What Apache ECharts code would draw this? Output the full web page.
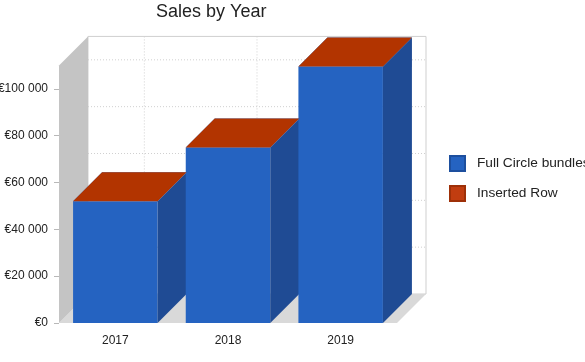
<!DOCTYPE html>
<html>
<head>
<meta charset="utf-8">
<script src="https://cdn.jsdelivr.net/npm/echarts@6/dist/echarts.min.js"></script>
<style>
  html, body { margin: 0; padding: 0; background: #fff; }
  #chart { width: 585px; height: 362px; }
</style>
</head>
<body>
<div id="chart"></div>
<script>
// data
const categories = ['2017', '2018', '2019']
const fullCircle = [52000, 75000, 109500]
const insertedRow = [0, 0, 0]
const yTicks = [0, 20000, 40000, 60000, 80000, 100000]
const wallTop = 110000

// 3d look
const DX = 29
const DY = -29
const BAR_RATIO = 0.75

const faces = {
  'Full Circle bundles': { front: '#2563c1', side: '#1f4b94', top: '#2d6bcb' },
  'Inserted Row': { front: '#c13d10', side: '#8f2c05', top: '#b23400' }
}

const fmt = v => '€' + String(v).replace(/\B(?=(\d{3})+(?!\d))/g, ' ')

function renderBox(name) {
  const f = faces[name]
  return function (params, api) {
    const i = api.value(0)
    const c0 = api.coord([i, api.value(1)])
    const c1 = api.coord([i, api.value(2)])
    const w = api.size([1, 0])[0] * BAR_RATIO
    const x0 = c0[0] - w / 2
    const x1 = c0[0] + w / 2
    const yb = c0[1]
    const yt = c1[1]
    return {
      type: 'group',
      children: [
        { type: 'rect', shape: { x: x0, y: yt, width: w, height: yb - yt }, style: { fill: f.front } },
        { type: 'polygon', shape: { points: [[x1, yb], [x1 + DX, yb + DY], [x1 + DX, yt + DY], [x1, yt]] }, style: { fill: f.side } },
        { type: 'polygon', shape: { points: [[x0, yt], [x1, yt], [x1 + DX, yt + DY], [x0 + DX, yt + DY]] }, style: { fill: f.top } }
      ]
    }
  }
}

function renderWalls(params, api) {
  const n = categories.length
  const band = api.size([1, 0])[0]
  const L = api.coord([0, 0])[0] - band / 2
  const R = api.coord([n - 1, 0])[0] + band / 2
  const y0 = api.coord([0, 0])[1]
  const yT = api.coord([0, wallTop])[1]
  const children = [
    // back wall
    { type: 'rect', shape: { x: L + DX, y: yT + DY, width: R - L, height: y0 - yT }, style: { fill: '#fff', stroke: '#cfcfcf', lineWidth: 1 } },
    // floor
    { type: 'polygon', shape: { points: [[L, y0], [R, y0], [R + DX, y0 + DY], [L + DX, y0 + DY]] }, style: { fill: '#d9d9d9' } },
    // left wall
    { type: 'polygon', shape: { points: [[L, y0], [L, yT], [L + DX, yT + DY], [L + DX, y0 + DY]] }, style: { fill: '#c4c4c4' } }
  ]
  yTicks.forEach(v => {
    if (v === 0) return
    const y = api.coord([0, v])[1] + DY
    children.push({ type: 'line', shape: { x1: L + DX, y1: y, x2: R + DX, y2: y }, style: { stroke: '#d0d0d0', lineWidth: 1, lineDash: [1, 2] } })
  })
  for (let i = 0; i < n; i++) {
    const x = api.coord([i, 0])[0] + DX
    children.push({ type: 'line', shape: { x1: x, y1: yT + DY, x2: x, y2: y0 + DY }, style: { stroke: '#d0d0d0', lineWidth: 1, lineDash: [1, 2] } })
  }
  return { type: 'group', children: children }
}

const chart = echarts.init(document.getElementById('chart'))
chart.setOption({
  animation: false,
  textStyle: { fontFamily: '"Liberation Sans", Arial, sans-serif' },
  title: {
    text: 'Sales by Year',
    left: 156,
    top: 3,
    padding: 0,
    textStyle: { fontSize: 18, fontWeight: 'normal', color: '#222' }
  },
  legend: {
    data: ['Full Circle bundles', 'Inserted Row'],
    orient: 'vertical',
    left: 449,
    top: 155,
    padding: 0,
    itemWidth: 15,
    itemHeight: 15,
    itemGap: 13,
    icon: 'rect',
    textStyle: { fontSize: 13.7, color: '#222', padding: [0, 0, 0, 7] }
  },
  grid: { left: 59, right: 188, top: 42, bottom: 39, outerBoundsMode: 'none' },
  xAxis: {
    type: 'category',
    data: categories,
    axisLine: { show: false },
    axisTick: { alignWithLabel: true, length: 4, lineStyle: { color: '#b8b8b8' } },
    axisLabel: { margin: 12, fontSize: 12, color: '#222' }
  },
  yAxis: {
    type: 'value',
    min: 0,
    max: 120000,
    interval: 20000,
    splitLine: { show: false },
    axisLine: { show: false },
    axisTick: { show: true, length: 5, customValues: yTicks, lineStyle: { color: '#b8b8b8' } },
    axisLabel: { margin: 11, fontSize: 12, color: '#222', customValues: yTicks, formatter: fmt }
  },
  series: [
    {
      type: 'custom',
      name: 'walls',
      z: 1,
      silent: true,
      renderItem: renderWalls,
      encode: { x: 0, y: 1 },
      data: [[0, 0]]
    },
    {
      type: 'custom',
      name: 'Full Circle bundles',
      z: 2,
      itemStyle: { color: '#2563c1', borderColor: '#1d4f9e', borderWidth: 1 },
      renderItem: renderBox('Full Circle bundles'),
      encode: { x: 0, y: [1, 2] },
      data: fullCircle.map((v, i) => [i, 0, v])
    },
    {
      type: 'custom',
      name: 'Inserted Row',
      z: 2,
      itemStyle: { color: '#c13d10', borderColor: '#9e3008', borderWidth: 1 },
      renderItem: renderBox('Inserted Row'),
      encode: { x: 0, y: [1, 2] },
      data: insertedRow.map((v, i) => [i, fullCircle[i], fullCircle[i] + v])
    }
  ]
})
</script>
</body>
</html>
